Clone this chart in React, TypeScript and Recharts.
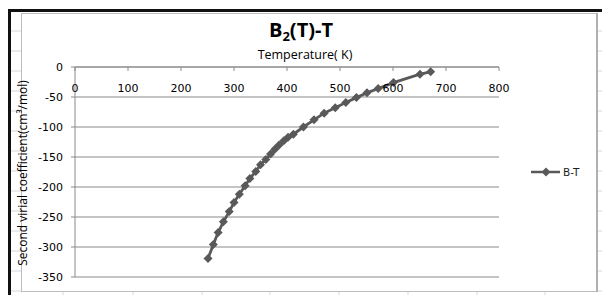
import { LineChart, Line, XAxis, YAxis, CartesianGrid } from "recharts";

// temperature (K) and B2 (cm3/mol)
const temperature = [
  251, 261, 270, 280, 291, 300, 310, 321, 330, 341, 350, 360, 369, 377, 385,
  394, 402, 412, 431, 451, 470, 491, 511, 531, 551, 572, 601, 651, 671,
];
const b2 = [
  -319, -296, -276, -258, -241, -226, -212, -198, -186, -174, -163, -154, -145,
  -137, -130, -123, -117, -112, -100, -88, -77, -68, -59, -51, -43, -36, -26,
  -12, -8,
];
const xTicks = [0, 100, 200, 300, 400, 500, 600, 700, 800];
const yTicks = [0, -50, -100, -150, -200, -250, -300, -350];

const data = temperature.map((t, i) => ({ t, b: b2[i] }));

const SERIES = "#595959";
const AXIS = "#8a8a8a";
const tickFont = { fill: "#000", fontSize: 11, fontFamily: "DejaVu Sans" };

// eslint-disable-next-line @typescript-eslint/no-explicit-any
const Diamond = ({ cx, cy, index }: any) => (
  <path
    key={index}
    d={`M${cx},${cy - 4.5}L${cx + 4.5},${cy}L${cx},${cy + 4.5}L${cx - 4.5},${cy}Z`}
    fill={SERIES}
  />
);

const gridRows = [31, 51, 71, 91, 111, 131, 151, 171, 191, 211, 231, 251, 271, 291];
const gridCols = [63, 133, 202, 270, 339, 408, 477, 545];

export default function App() {
  return (
    <div style={{ position: "absolute", left: 0, top: 0, width: 602, height: 295, background: "#fff", overflow: "hidden" }}>
      {/* spreadsheet behind the chart */}
      <svg width={602} height={295} style={{ position: "absolute", left: 0, top: 0 }}>
        {gridRows.map((y) => (
          <g key={y}>
            <line x1={11} x2={21} y1={y} y2={y} stroke="#d0d7e5" />
            <line x1={598} x2={602} y1={y} y2={y} stroke="#d0d7e5" />
          </g>
        ))}
        {gridCols.map((x) => (
          <line key={x} x1={x} x2={x} y1={292} y2={295} stroke="#d0d7e5" />
        ))}
        <rect x={8} y={9} width={594} height={3} fill="#111" />
        <rect x={8} y={9} width={3} height={286} fill="#111" />
        <rect x={21.5} y={13.5} width={575} height={278} fill="#fff" stroke="#bdbdbd" />
        <line x1={597} x2={597} y1={13} y2={292} stroke="#b0b0b0" strokeWidth={2} />
      </svg>

      <div style={{ position: "absolute", left: 0, top: 0 }}>
        <LineChart width={602} height={295} data={data} margin={{ top: 67, right: 103, bottom: 18, left: 74 }}>
          <CartesianGrid vertical={false} stroke={AXIS} />
          <XAxis
            type="number"
            dataKey="t"
            orientation="top"
            mirror
            height={1}
            domain={[0, 800]}
            ticks={xTicks}
            interval={0}
            tick={tickFont}
            tickSize={4}
            tickMargin={13}
            stroke={AXIS}
          />
          <YAxis
            type="number"
            domain={[-350, 0]}
            ticks={yTicks}
            interval={0}
            width={1}
            tick={tickFont}
            tickSize={4}
            tickMargin={8}
            stroke={AXIS}
          />
          <Line
            type="linear"
            dataKey="b"
            stroke={SERIES}
            strokeWidth={2.8}
            dot={Diamond}
            activeDot={false}
            isAnimationActive={false}
          />
        </LineChart>
      </div>

      {/* titles and legend */}
      <svg width={602} height={295} style={{ position: "absolute", left: 0, top: 0, pointerEvents: "none" }}>
        <text x={301} y={37} textAnchor="middle" fontFamily="Open Sans" fontWeight={700} fontSize={20} fill="#000">
          B<tspan fontSize={13} dy={4}>2</tspan>
          <tspan dy={-4}>(T)-T</tspan>
        </text>
        <text x={305} y={59} textAnchor="middle" fontFamily="Open Sans" fontSize={12.5} fill="#000">
          Temperature( K)
        </text>
        <text
          x={0}
          y={0}
          transform="translate(27,173) rotate(-90)"
          textAnchor="middle"
          fontFamily="Open Sans"
          fontSize={12}
          fill="#000"
        >
          Second virial coefficient(cm³/mol)
        </text>
        <line x1={531} x2={560} y1={172} y2={172} stroke={SERIES} strokeWidth={2.5} />
        <path d="M546,167.5L550.5,172L546,176.5L541.5,172Z" fill={SERIES} />
        <text x={563} y={176} fontFamily="DejaVu Sans" fontSize={10.5} fill="#1f1f1f">
          B-T
        </text>
      </svg>
    </div>
  );
}
